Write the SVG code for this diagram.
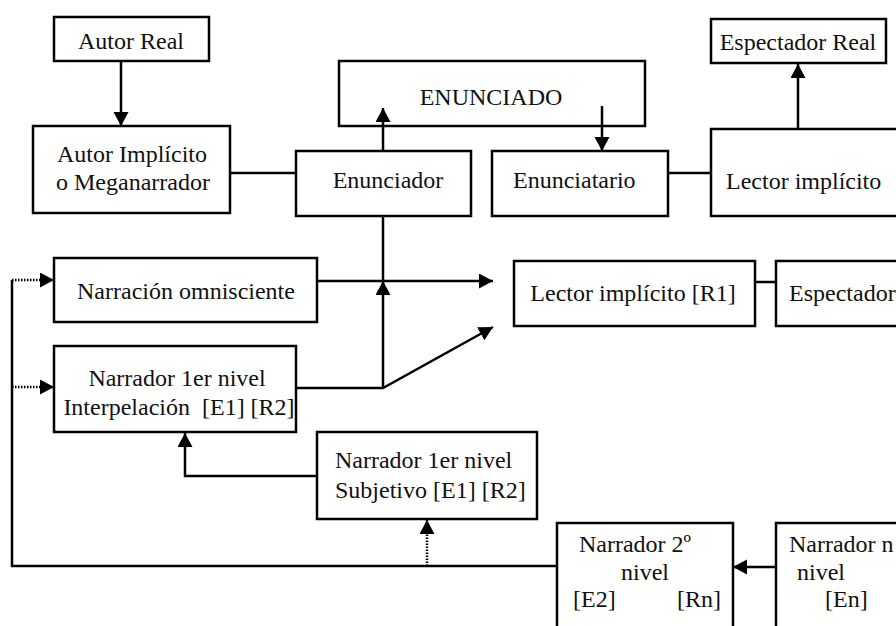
<svg xmlns="http://www.w3.org/2000/svg" width="896" height="626" viewBox="0 0 896 626">
<style>
.box{fill:#fff;stroke:#000;stroke-width:2.5}
.t{font-size:24px;fill:#111}
.c{text-anchor:middle}
.ln{fill:none;stroke:#000;stroke-width:2.5}
.dot{fill:none;stroke:#000;stroke-width:2.5;stroke-dasharray:1.5 1.5}
</style>
<defs>
<marker id="ah" markerUnits="userSpaceOnUse" markerWidth="16" markerHeight="16" refX="14" refY="7.5" orient="auto" viewBox="0 0 16 16">
<path d="M0,0 L14,7.5 L0,15 z" fill="#000"/>
</marker>
</defs>
<rect width="896" height="626" fill="#fff"/>
<g id="nodes" font-family="Liberation Serif, DejaVu Serif, serif">
<g id="autor-real"><rect class="box" x="54" y="17" width="155" height="44"/><text class="t c" x="131" y="49">Autor Real</text></g>
<g id="autor-implicito"><rect class="box" x="33" y="126" width="197" height="87"/><text class="t c" x="132" y="162">Autor Implícito</text><text class="t c" x="133" y="190">o Meganarrador</text></g>
<g id="enunciado"><rect class="box" x="339" y="61" width="306" height="65"/><text class="t c" x="491" y="105">ENUNCIADO</text></g>
<g id="enunciador"><rect class="box" x="296" y="151" width="175" height="65"/><text class="t c" x="388" y="188">Enunciador</text></g>
<g id="enunciatario"><rect class="box" x="492" y="151" width="176" height="65"/><text class="t" x="513" y="188">Enunciatario</text></g>
<g id="lector-implicito"><rect class="box" x="711" y="129" width="200" height="87"/><text class="t" x="726" y="189">Lector implícito</text></g>
<g id="espectador-real"><rect class="box" x="711" y="19" width="175" height="44"/><text class="t c" x="798" y="50">Espectador Real</text></g>
<g id="narracion-omnisciente"><rect class="box" x="54" y="258" width="263" height="64"/><text class="t c" x="186" y="299">Narración omnisciente</text></g>
<g id="narrador-interpelacion"><rect class="box" x="54" y="346" width="242" height="86"/><text class="t c" x="177" y="386">Narrador 1er nivel</text><text class="t c" x="179" y="415" style="white-space:pre">Interpelación  [E1] [R2]</text></g>
<g id="lector-implicito-r1"><rect class="box" x="514" y="261" width="241" height="65"/><text class="t c" x="633" y="301">Lector implícito [R1]</text></g>
<g id="espectador"><rect class="box" x="776" y="261" width="130" height="65"/><text class="t" x="789" y="301">Espectador</text></g>
<g id="narrador-subjetivo"><rect class="box" x="317" y="432" width="220" height="87"/><text class="t" x="335" y="468">Narrador 1er nivel</text><text class="t" x="335" y="498">Subjetivo [E1] [R2]</text></g>
<g id="narrador-2"><rect class="box" x="557" y="523" width="176" height="120"/><text class="t" x="579" y="552">Narrador 2º</text><text class="t" x="621" y="580">nivel</text><text class="t" x="573" y="607">[E2]</text><text class="t" x="677" y="607">[Rn]</text></g>
<g id="narrador-n"><rect class="box" x="776" y="523" width="130" height="120"/><text class="t" x="789" y="552">Narrador n</text><text class="t" x="797" y="580">nivel</text><text class="t" x="825" y="607">[En]</text></g>
</g>
<g id="connectors">
<path class="ln" d="M121,61 L121,126" marker-end="url(#ah)"/>
<path class="ln" d="M230,173 L296,173"/>
<path class="ln" d="M383,151 L383,108" marker-end="url(#ah)"/>
<path class="ln" d="M602,106 L602,151" marker-end="url(#ah)"/>
<path class="ln" d="M668,173 L711,173"/>
<path class="ln" d="M798,129 L798,64" marker-end="url(#ah)"/>
<path class="ln" d="M317,281 L493,281" marker-end="url(#ah)"/>
<path class="ln" d="M383,388 L383,281" marker-end="url(#ah)"/>
<path class="ln" d="M383,281 L383,216"/>
<path class="ln" d="M296,388 L383,388 L493,327" marker-end="url(#ah)"/>
<path class="ln" d="M755,282 L776,282"/>
<path class="ln" d="M317,476 L185,476 L185,433" marker-end="url(#ah)"/>
<path class="ln" d="M557,566 L12,566 L12,280"/>
<path class="dot" d="M12,280 L54,280" marker-end="url(#ah)"/>
<path class="dot" d="M12,387 L54,387" marker-end="url(#ah)"/>
<path class="dot" d="M427,566 L427,520" marker-end="url(#ah)"/>
<path class="ln" d="M776,567 L733,567" marker-end="url(#ah)"/>
</g>
</svg>
